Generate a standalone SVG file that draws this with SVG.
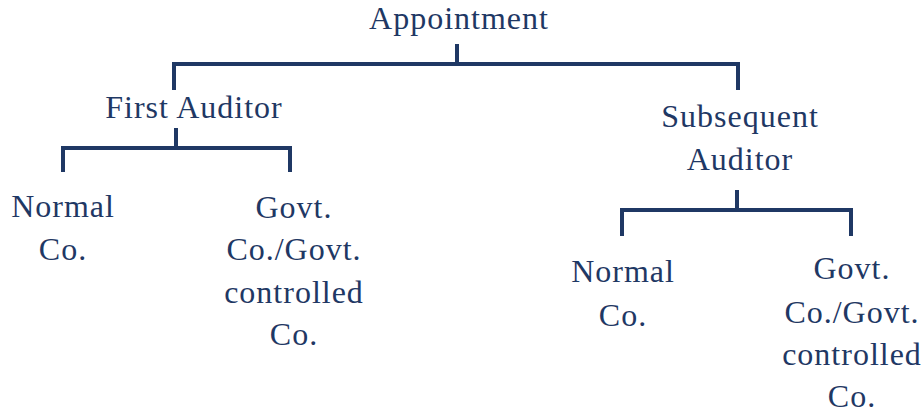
<svg xmlns="http://www.w3.org/2000/svg" width="923" height="413" viewBox="0 0 923 413">
<style>
text{font-family:"Liberation Serif","DejaVu Serif",serif;font-size:32px;letter-spacing:1px;fill:#1F3864;text-anchor:middle}
.c{fill:none;stroke:#1F3864;stroke-width:4;stroke-linejoin:miter}
</style>
<rect width="923" height="413" fill="#ffffff"/>
<g id="connectors">
<path class="c" d="M457 44V64M174 90V64H738V90"/>
<path class="c" d="M176 128V148M63 172V148H290V172"/>
<path class="c" d="M737 190V210M622 236V210H851V236"/>
</g>
<g id="appointment"><text x="459" y="29">Appointment</text></g>
<g id="first-auditor"><text x="194" y="118">First Auditor</text></g>
<g id="subsequent-auditor"><text x="740" y="127">Subsequent</text><text x="740" y="170">Auditor</text></g>
<g id="normal-co-1"><text x="63" y="217">Normal</text><text x="63" y="260">Co.</text></g>
<g id="govt-co-1"><text x="294" y="218">Govt.</text><text x="294" y="260">Co./Govt.</text><text x="294" y="303">controlled</text><text x="294" y="345">Co.</text></g>
<g id="normal-co-2"><text x="623" y="282">Normal</text><text x="623" y="326">Co.</text></g>
<g id="govt-co-2"><text x="852" y="279">Govt.</text><text x="852" y="323">Co./Govt.</text><text x="852" y="365">controlled</text><text x="852" y="407">Co.</text></g>
</svg>
